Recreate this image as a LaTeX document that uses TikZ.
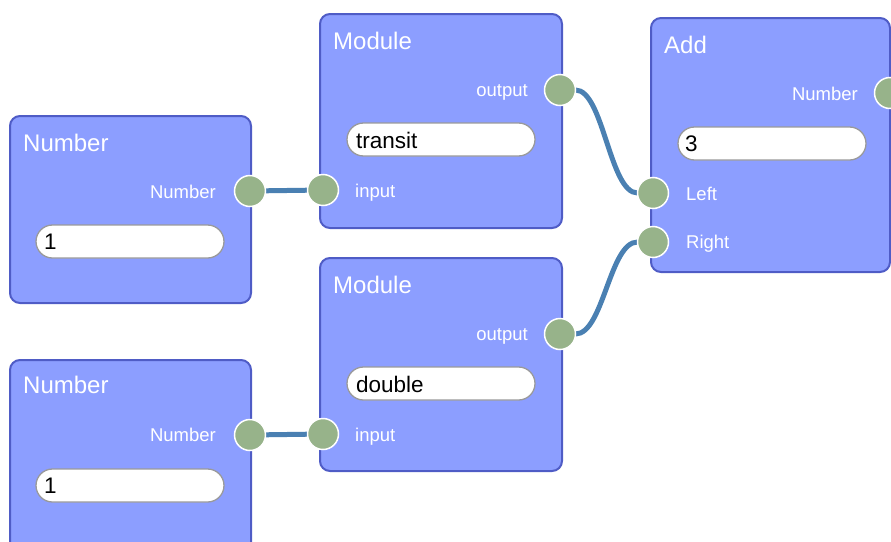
\documentclass[tikz,border=0pt]{standalone}
\usepackage{fontspec}
\setmainfont{Liberation Sans}
\pgfdeclarelayer{front}
\pgfsetlayers{main,front}
\definecolor{panelfill}{HTML}{8C9EFF}
\definecolor{panelborder}{HTML}{4F5CC6}
\definecolor{portgreen}{HTML}{97B38A}
\definecolor{wirecol}{HTML}{4A80B2}
\definecolor{fieldborder}{HTML}{9A9A9A}
\begin{document}
\begin{tikzpicture}[x=1pt,y=-1pt,
  panel/.style={draw=panelborder, fill=panelfill, line width=2pt, rounded corners=10pt, anchor=north west, inner sep=0pt, outer sep=0pt},
  field/.style={draw=fieldborder, fill=white, line width=1.3pt, rounded corners=16.5pt, anchor=north west, minimum width=188pt, minimum height=33pt, inner sep=0pt, outer sep=0pt},
  titletxt/.style={text=white, font=\fontsize{24}{28}\selectfont, anchor=base west, inner sep=0pt},
  porttxtR/.style={text=white, font=\fontsize{18.5}{22}\selectfont, anchor=base east, inner sep=0pt},
  porttxtL/.style={text=white, font=\fontsize{18.5}{22}\selectfont, anchor=base west, inner sep=0pt},
  fieldtxt/.style={text=black, font=\fontsize{22.5}{26}\selectfont, anchor=base west, inner sep=0pt},
  port/.style={circle, fill=portgreen, draw=white, line width=1.5pt, minimum size=31pt, inner sep=0pt, outer sep=0pt},
  wire/.style={draw=wirecol, line width=5pt}
]
\useasboundingbox (0,0) rectangle (891,541);
\clip (0,0) rectangle (891,541);

% Number 1
\node[panel, minimum width=241pt, minimum height=187pt] (num1) at (10,116) {};
\node[titletxt] (num1t) at (23,151) {Number};
\node[porttxtR] (num1l) at (216,198) {Number};
\node[field] (num1f) at (36,225) {};
\node[fieldtxt] (num1v) at (44,249) {1};

% Number 2
\node[panel, minimum width=241pt, minimum height=200pt] (num2) at (10,360) {};
\node[titletxt] (num2t) at (23,393) {Number};
\node[porttxtR] (num2l) at (216,441) {Number};
\node[field] (num2f) at (36,469) {};
\node[fieldtxt] (num2v) at (44,493) {1};

% Module 1
\node[panel, minimum width=242pt, minimum height=214pt] (mod1) at (320,14) {};
\node[titletxt] (mod1t) at (333,49) {Module};
\node[porttxtR] (mod1l) at (528,96) {output};
\node[field] (mod1f) at (347,123) {};
\node[fieldtxt] (mod1v) at (356,148) {transit};
\node[porttxtL] (mod1il) at (355,197) {input};

% Module 2
\node[panel, minimum width=242pt, minimum height=213pt] (mod2) at (320,258) {};
\node[titletxt] (mod2t) at (333,293) {Module};
\node[porttxtR] (mod2l) at (528,340) {output};
\node[field] (mod2f) at (347,367) {};
\node[fieldtxt] (mod2v) at (356,392) {double};
\node[porttxtL] (mod2il) at (355,441) {input};

% Add
\node[panel, minimum width=239pt, minimum height=254pt] (add) at (651,18) {};
\node[titletxt] (addt) at (664,53) {Add};
\node[porttxtR] (addl) at (858,100) {Number};
\node[field] (addf) at (678,127) {};
\node[fieldtxt] (addv) at (685,151) {3};
\node[porttxtL] (addLl) at (686,200) {Left};
\node[porttxtL] (addRl) at (686,248) {Right};

% ports (front layer)
\begin{pgfonlayer}{front}
\node[port] (num1o) at (250,191) {};
\node[port] (num2o) at (250,435) {};
\node[port] (mod1i) at (323,190) {};
\node[port] (mod1o) at (560,90) {};
\node[port] (mod2i) at (323,434) {};
\node[port] (mod2o) at (560,334) {};
\node[port] (addo) at (890,93) {};
\node[port] (addL) at (653,193) {};
\node[port] (addR) at (653,242) {};
\end{pgfonlayer}

% wires
\draw[wire] (num1o.center) -- (mod1i.center);
\draw[wire] (num2o.center) -- (mod2i.center);
\draw[wire] (mod1o.east) .. controls +(28,0) and +(-28,0) .. (addL.west);
\draw[wire] (mod2o.east) .. controls +(28,0) and +(-28,0) .. (addR.west);
\end{tikzpicture}
\end{document}
